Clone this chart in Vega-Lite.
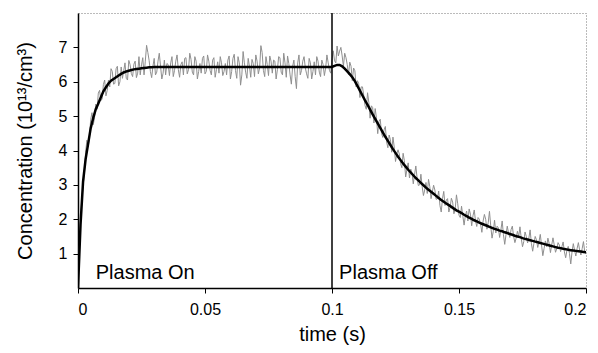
{
  "$schema": "https://vega.github.io/schema/vega-lite/v6.json",
  "width": 508,
  "height": 275,
  "autosize": "none",
  "padding": {"left": 78, "top": 13, "right": 12, "bottom": 65},
  "background": "white",
  "config": {
    "view": {"stroke": "#777", "strokeDash": [1, 2], "strokeWidth": 1},
    "axis": {
      "grid": false,
      "domainColor": "black",
      "domainWidth": 1.5,
      "tickColor": "black",
      "tickSize": 5,
      "labelFont": "Liberation Sans",
      "labelFontSize": 16,
      "labelColor": "black",
      "labelOverlap": false,
      "titleFont": "Liberation Sans",
      "titleFontSize": 20,
      "titleFontWeight": "normal",
      "titleColor": "black"
    }
  },
  "datasets": {
    "series": [
      {"t":0,"f":0,"s":0.05},{"t":0.001,"f":1.85,"s":1.95},{"t":0.002,"f":3.1,"s":2.95},{"t":0.003,"f":3.75,"s":3.95},{"t":0.004,"f":4.2,"s":4.1},
      {"t":0.005,"f":4.65,"s":4.9},{"t":0.006,"f":4.95,"s":4.75},{"t":0.007,"f":5.2,"s":5.35},{"t":0.008,"f":5.37,"s":5.67},{"t":0.009,"f":5.55,"s":5.45},
      {"t":0.01,"f":5.72,"s":5.92},{"t":0.011,"f":5.84,"s":5.59},{"t":0.012,"f":5.95,"s":6.05},{"t":0.013,"f":6.03,"s":6.38},{"t":0.014,"f":6.08,"s":5.93},
      {"t":0.015,"f":6.13,"s":6.38},{"t":0.016,"f":6.18,"s":5.88},{"t":0.017,"f":6.23,"s":6.43},{"t":0.018,"f":6.27,"s":6.32},{"t":0.019,"f":6.3,"s":6.1},
      {"t":0.02,"f":6.32,"s":6.62},{"t":0.021,"f":6.34,"s":6.24},{"t":0.022,"f":6.36,"s":6.51},{"t":0.023,"f":6.37,"s":6.12},{"t":0.024,"f":6.38,"s":6.73},
      {"t":0.025,"f":6.39,"s":6.49},{"t":0.026,"f":6.4,"s":6.2},{"t":0.027,"f":6.41,"s":7.06},{"t":0.028,"f":6.42,"s":6.62},{"t":0.029,"f":6.42,"s":6.12},
      {"t":0.03,"f":6.43,"s":6.68},{"t":0.031,"f":6.43,"s":6.28},{"t":0.032,"f":6.43,"s":6.83},{"t":0.033,"f":6.43,"s":6.08},{"t":0.034,"f":6.43,"s":6.63},
      {"t":0.035,"f":6.43,"s":6.53},{"t":0.036,"f":6.43,"s":6.18},{"t":0.037,"f":6.43,"s":6.73},{"t":0.038,"f":6.43,"s":6.33},{"t":0.039,"f":6.43,"s":6.78},
      {"t":0.04,"f":6.43,"s":6.13},{"t":0.041,"f":6.43,"s":6.58},{"t":0.042,"f":6.43,"s":6.68},{"t":0.043,"f":6.43,"s":6.23},{"t":0.044,"f":6.43,"s":6.83},
      {"t":0.045,"f":6.43,"s":6.28},{"t":0.046,"f":6.43,"s":6.73},{"t":0.047,"f":6.43,"s":6.08},{"t":0.048,"f":6.43,"s":6.53},{"t":0.049,"f":6.43,"s":6.68},
      {"t":0.05,"f":6.43,"s":6.23},{"t":0.051,"f":6.43,"s":6.78},{"t":0.052,"f":6.43,"s":6.33},{"t":0.053,"f":6.43,"s":6.63},{"t":0.054,"f":6.43,"s":6.13},
      {"t":0.055,"f":6.43,"s":6.58},{"t":0.056,"f":6.43,"s":6.73},{"t":0.057,"f":6.43,"s":6.18},{"t":0.058,"f":6.43,"s":6.53},{"t":0.059,"f":6.43,"s":6.63},
      {"t":0.06,"f":6.43,"s":6.08},{"t":0.061,"f":6.43,"s":6.68},{"t":0.062,"f":6.43,"s":6.33},{"t":0.063,"f":6.43,"s":6.73},{"t":0.064,"f":6.43,"s":5.9},
      {"t":0.065,"f":6.43,"s":6.88},{"t":0.066,"f":6.43,"s":6.28},{"t":0.067,"f":6.43,"s":6.68},{"t":0.068,"f":6.43,"s":6.13},{"t":0.069,"f":6.43,"s":6.53},
      {"t":0.07,"f":6.43,"s":6.78},{"t":0.071,"f":6.43,"s":6.23},{"t":0.072,"f":6.43,"s":7.05},{"t":0.073,"f":6.43,"s":6.33},{"t":0.074,"f":6.43,"s":6.73},
      {"t":0.075,"f":6.43,"s":6.18},{"t":0.076,"f":6.43,"s":6.6},{"t":0.077,"f":6.43,"s":6.63},{"t":0.078,"f":6.43,"s":6.08},{"t":0.079,"f":6.43,"s":6.73},
      {"t":0.08,"f":6.43,"s":6.28},{"t":0.081,"f":6.43,"s":6.83},{"t":0.082,"f":6.43,"s":6.13},{"t":0.083,"f":6.43,"s":6.53},{"t":0.084,"f":6.43,"s":5.93},
      {"t":0.085,"f":6.43,"s":6.63},{"t":0.086,"f":6.43,"s":5.8},{"t":0.087,"f":6.43,"s":6.78},{"t":0.088,"f":6.43,"s":6.33},{"t":0.089,"f":6.43,"s":6.73},
      {"t":0.09,"f":6.43,"s":6.23},{"t":0.091,"f":6.43,"s":6.68},{"t":0.092,"f":6.43,"s":6.08},{"t":0.093,"f":6.43,"s":6.58},{"t":0.094,"f":6.43,"s":6.73},
      {"t":0.095,"f":6.43,"s":6.28},{"t":0.096,"f":6.43,"s":6.63},{"t":0.097,"f":6.43,"s":6.18},{"t":0.098,"f":6.43,"s":6.78},{"t":0.099,"f":6.43,"s":6.33},
      {"t":0.1,"f":6.43,"s":6.63},{"t":0.101,"f":6.46,"s":6.61},{"t":0.102,"f":6.49,"s":7.04},{"t":0.103,"f":6.49,"s":6.89},{"t":0.104,"f":6.45,"s":6.75},
      {"t":0.105,"f":6.38,"s":6.83},{"t":0.106,"f":6.3,"s":6.5},{"t":0.107,"f":6.22,"s":6.57},{"t":0.108,"f":6.13,"s":6.03},{"t":0.109,"f":6.02,"s":6.32},
      {"t":0.11,"f":5.88,"s":6.03},{"t":0.111,"f":5.74,"s":5.54},{"t":0.112,"f":5.6,"s":5.85},{"t":0.113,"f":5.46,"s":5.31},{"t":0.114,"f":5.33,"s":5.68},
      {"t":0.115,"f":5.19,"s":4.94},{"t":0.116,"f":5.05,"s":5.25},{"t":0.117,"f":4.92,"s":5.22},{"t":0.118,"f":4.79,"s":4.49},{"t":0.119,"f":4.66,"s":4.91},
      {"t":0.12,"f":4.53,"s":4.38},{"t":0.121,"f":4.4,"s":4.7},{"t":0.122,"f":4.28,"s":4.08},{"t":0.123,"f":4.16,"s":4.31},{"t":0.124,"f":4.04,"s":4.39},
      {"t":0.125,"f":3.93,"s":3.68},{"t":0.126,"f":3.82,"s":4.02},{"t":0.127,"f":3.72,"s":3.62},{"t":0.128,"f":3.62,"s":3.92},{"t":0.129,"f":3.53,"s":3.23},
      {"t":0.13,"f":3.44,"s":3.64},{"t":0.131,"f":3.36,"s":3.46},{"t":0.132,"f":3.28,"s":3.03},{"t":0.133,"f":3.2,"s":3.55},{"t":0.134,"f":3.13,"s":2.98},
      {"t":0.135,"f":3.06,"s":3.31},{"t":0.136,"f":2.99,"s":2.69},{"t":0.137,"f":2.92,"s":3.07},{"t":0.138,"f":2.86,"s":3.16},{"t":0.139,"f":2.8,"s":2.6},
      {"t":0.14,"f":2.74,"s":2.99},{"t":0.141,"f":2.68,"s":2.58},{"t":0.142,"f":2.62,"s":2.82},{"t":0.143,"f":2.56,"s":2.21},{"t":0.144,"f":2.51,"s":2.81},
      {"t":0.145,"f":2.46,"s":2.56},{"t":0.146,"f":2.41,"s":2.21},{"t":0.147,"f":2.36,"s":2.61},{"t":0.148,"f":2.31,"s":2.16},{"t":0.149,"f":2.26,"s":2.71},
      {"t":0.15,"f":2.22,"s":2.12},{"t":0.151,"f":2.18,"s":2.38},{"t":0.152,"f":2.13,"s":1.83},{"t":0.153,"f":2.09,"s":2.24},{"t":0.154,"f":2.05,"s":2.3},
      {"t":0.155,"f":2.01,"s":1.81},{"t":0.156,"f":1.97,"s":2.27},{"t":0.157,"f":1.94,"s":1.79},{"t":0.158,"f":1.9,"s":2.0},{"t":0.159,"f":1.87,"s":1.62},
      {"t":0.16,"f":1.84,"s":2.14},{"t":0.161,"f":1.81,"s":1.71},{"t":0.162,"f":1.78,"s":2.23},{"t":0.163,"f":1.75,"s":1.45},{"t":0.164,"f":1.72,"s":1.97},
      {"t":0.165,"f":1.7,"s":1.8},{"t":0.166,"f":1.67,"s":1.47},{"t":0.167,"f":1.65,"s":1.95},{"t":0.168,"f":1.62,"s":1.27},{"t":0.169,"f":1.6,"s":1.8},
      {"t":0.17,"f":1.57,"s":1.47},{"t":0.171,"f":1.55,"s":1.8},{"t":0.172,"f":1.52,"s":1.32},{"t":0.173,"f":1.5,"s":1.65},{"t":0.174,"f":1.48,"s":1.78},
      {"t":0.175,"f":1.45,"s":1.2},{"t":0.176,"f":1.43,"s":1.63},{"t":0.177,"f":1.41,"s":1.31},{"t":0.178,"f":1.39,"s":1.69},{"t":0.179,"f":1.37,"s":1.07},
      {"t":0.18,"f":1.35,"s":1.5},{"t":0.181,"f":1.33,"s":1.18},{"t":0.182,"f":1.31,"s":1.56},{"t":0.183,"f":1.29,"s":0.94},{"t":0.184,"f":1.27,"s":1.37},
      {"t":0.185,"f":1.25,"s":1.45},{"t":0.186,"f":1.23,"s":1.03},{"t":0.187,"f":1.21,"s":1.46},{"t":0.188,"f":1.19,"s":1.04},{"t":0.189,"f":1.17,"s":1.32},
      {"t":0.19,"f":1.16,"s":1.06},{"t":0.191,"f":1.14,"s":1.34},{"t":0.192,"f":1.13,"s":0.88},{"t":0.193,"f":1.11,"s":1.21},{"t":0.194,"f":1.1,"s":0.7},
      {"t":0.195,"f":1.09,"s":1.29},{"t":0.196,"f":1.08,"s":0.93},{"t":0.197,"f":1.07,"s":1.32},{"t":0.198,"f":1.06,"s":0.96},{"t":0.199,"f":1.05,"s":1.35},
      {"t":0.2,"f":1.04,"s":0.99},
      {"t":0.0005,"s":1.1},{"t":0.0015,"s":2.6},{"t":0.0025,"s":3.3},{"t":0.0035,"s":4.3},{"t":0.0045,"s":4.4},
      {"t":0.0055,"s":5.1},{"t":0.0065,"s":4.95},{"t":0.0075,"s":5.2},{"t":0.0085,"s":5.75},{"t":0.0095,"s":5.5},
      {"t":0.0105,"s":6.05},{"t":0.0115,"s":5.75},{"t":0.0125,"s":5.85},{"t":0.0135,"s":6.3},{"t":0.0145,"s":5.95},
      {"t":0.0155,"s":6.45},{"t":0.0165,"s":6.0},{"t":0.0175,"s":6.1},{"t":0.0185,"s":6.55},{"t":0.0195,"s":6.05},
      {"t":0.0205,"s":6.5},{"t":0.0215,"s":6.15},{"t":0.0225,"s":6.6},{"t":0.0235,"s":6.25},{"t":0.0245,"s":6.2},
      {"t":0.0255,"s":6.7},{"t":0.0265,"s":6.6},{"t":0.0275,"s":6.85},{"t":0.0285,"s":6.3},{"t":0.0295,"s":6.45},
      {"t":0.0305,"s":6.2},{"t":0.0315,"s":6.6},{"t":0.0325,"s":6.45},{"t":0.0335,"s":6.25},{"t":0.0345,"s":6.2},
      {"t":0.0355,"s":6.5},{"t":0.0365,"s":6.55},{"t":0.0375,"s":6.15},{"t":0.0385,"s":6.6},{"t":0.0395,"s":6.35},
      {"t":0.0405,"s":6.5},{"t":0.0415,"s":6.2},{"t":0.0425,"s":6.7},{"t":0.0435,"s":6.35},{"t":0.0445,"s":6.65},
      {"t":0.0455,"s":6.2},{"t":0.0465,"s":6.6},{"t":0.0475,"s":6.3},{"t":0.0485,"s":6.25},{"t":0.0495,"s":6.75},
      {"t":0.0505,"s":6.3},{"t":0.0515,"s":6.6},{"t":0.0525,"s":6.2},{"t":0.0535,"s":6.7},{"t":0.0545,"s":6.35},
      {"t":0.0555,"s":6.25},{"t":0.0565,"s":6.55},{"t":0.0575,"s":6.3},{"t":0.0585,"s":6.2},{"t":0.0595,"s":6.75},
      {"t":0.0605,"s":6.3},{"t":0.0615,"s":6.8},{"t":0.0625,"s":6.1},{"t":0.0635,"s":6.55},{"t":0.0645,"s":6.2},
      {"t":0.0655,"s":6.55},{"t":0.0665,"s":6.1},{"t":0.0675,"s":6.45},{"t":0.0685,"s":6.65},{"t":0.0695,"s":6.15},
      {"t":0.0705,"s":6.6},{"t":0.0715,"s":6.4},{"t":0.0725,"s":6.85},{"t":0.0735,"s":6.15},{"t":0.0745,"s":6.5},
      {"t":0.0755,"s":6.75},{"t":0.0765,"s":6.25},{"t":0.0775,"s":6.6},{"t":0.0785,"s":6.35},{"t":0.0795,"s":6.7},
      {"t":0.0805,"s":6.2},{"t":0.0815,"s":6.55},{"t":0.0825,"s":6.75},{"t":0.0835,"s":6.2},{"t":0.0845,"s":6.45},
      {"t":0.0855,"s":6.15},{"t":0.0865,"s":6.55},{"t":0.0875,"s":6.2},{"t":0.0885,"s":6.6},{"t":0.0895,"s":6.4},
      {"t":0.0905,"s":6.1},{"t":0.0915,"s":6.55},{"t":0.0925,"s":6.3},{"t":0.0935,"s":6.2},{"t":0.0945,"s":6.6},
      {"t":0.0955,"s":6.15},{"t":0.0965,"s":6.5},{"t":0.0975,"s":6.4},{"t":0.0985,"s":6.55},{"t":0.0995,"s":6.25},
      {"t":0.1005,"s":6.9},{"t":0.1015,"s":6.55},{"t":0.1025,"s":6.75},{"t":0.1035,"s":7.0},{"t":0.1045,"s":6.45},
      {"t":0.1055,"s":6.7},{"t":0.1065,"s":6.2},{"t":0.1075,"s":6.45},{"t":0.1085,"s":6.4},{"t":0.1095,"s":5.85},
      {"t":0.1105,"s":5.95},{"t":0.1115,"s":5.85},{"t":0.1125,"s":5.6},{"t":0.1135,"s":5.2},{"t":0.1145,"s":5.4},
      {"t":0.1155,"s":5.3},{"t":0.1165,"s":4.8},{"t":0.1175,"s":4.95},{"t":0.1185,"s":4.85},{"t":0.1195,"s":4.5},
      {"t":0.1205,"s":4.6},{"t":0.1215,"s":4.25},{"t":0.1225,"s":4.45},{"t":0.1235,"s":3.95},{"t":0.1245,"s":4.1},
      {"t":0.1255,"s":3.9},{"t":0.1265,"s":3.9},{"t":0.1275,"s":3.5},{"t":0.1285,"s":3.7},{"t":0.1295,"s":3.45},
      {"t":0.1305,"s":3.2},{"t":0.1315,"s":3.35},{"t":0.1325,"s":3.3},{"t":0.1335,"s":3.2},{"t":0.1345,"s":3.0},
      {"t":0.1355,"s":2.95},{"t":0.1365,"s":2.85},{"t":0.1375,"s":2.75},{"t":0.1385,"s":2.95},{"t":0.1395,"s":2.8},
      {"t":0.1405,"s":2.85},{"t":0.1415,"s":2.6},{"t":0.1425,"s":2.4},{"t":0.1435,"s":2.6},{"t":0.1445,"s":2.4},
      {"t":0.1455,"s":2.6},{"t":0.1465,"s":2.35},{"t":0.1475,"s":2.5},{"t":0.1485,"s":2.3},{"t":0.1495,"s":2.45},
      {"t":0.1505,"s":2.05},{"t":0.1515,"s":2.1},{"t":0.1525,"s":2.1},{"t":0.1535,"s":1.95},{"t":0.1545,"s":2.15},
      {"t":0.1555,"s":2.1},{"t":0.1565,"s":1.95},{"t":0.1575,"s":2.05},{"t":0.1585,"s":1.85},{"t":0.1595,"s":1.95},
      {"t":0.1605,"s":2.0},{"t":0.1615,"s":1.9},{"t":0.1625,"s":1.8},{"t":0.1635,"s":1.65},{"t":0.1645,"s":1.6},
      {"t":0.1655,"s":1.75},{"t":0.1665,"s":1.7},{"t":0.1675,"s":1.55},{"t":0.1685,"s":1.55},{"t":0.1695,"s":1.6},
      {"t":0.1705,"s":1.7},{"t":0.1715,"s":1.5},{"t":0.1725,"s":1.45},{"t":0.1735,"s":1.5},{"t":0.1745,"s":1.45},
      {"t":0.1755,"s":1.35},{"t":0.1765,"s":1.5},{"t":0.1775,"s":1.45},{"t":0.1785,"s":1.3},{"t":0.1795,"s":1.3},
      {"t":0.1805,"s":1.4},{"t":0.1815,"s":1.35},{"t":0.1825,"s":1.25},{"t":0.1835,"s":1.15},{"t":0.1845,"s":1.2},
      {"t":0.1855,"s":1.3},{"t":0.1865,"s":1.25},{"t":0.1875,"s":1.25},{"t":0.1885,"s":1.15},{"t":0.1895,"s":1.25},
      {"t":0.1905,"s":1.2},{"t":0.1915,"s":1.05},{"t":0.1925,"s":1.1},{"t":0.1935,"s":1.0},{"t":0.1945,"s":1.05},
      {"t":0.1955,"s":1.1},{"t":0.1965,"s":1.15},{"t":0.1975,"s":1.1},{"t":0.1985,"s":1.15},{"t":0.1995,"s":1.05}
    ],
    "marker": [{"t": 0.1}],
    "labels": [
      {"t": 0.007, "y": 0.25, "label": "Plasma On"},
      {"t": 0.1028, "y": 0.25, "label": "Plasma Off"}
    ]
  },
  "encoding": {
    "x": {"field": "t", "type": "quantitative", "scale": {"domain": [0, 0.2], "nice": false},
      "axis": {"values": [0, 0.05, 0.1, 0.15, 0.2], "format": "~g", "labelPadding": 8, "titlePadding": 7},
      "title": "time (s)"}
  },
  "layer": [
    {
      "data": {"name": "series"},
      "mark": {"type": "line", "color": "#8f8f8f", "strokeWidth": 1, "clip": true},
      "encoding": {
        "y": {"field": "s", "type": "quantitative", "scale": {"domain": [0, 8], "nice": false},
          "axis": {"values": [1, 2, 3, 4, 5, 6, 7], "labelOverlap": false, "labelPadding": 6, "titlePadding": 23},
          "title": "Concentration (10¹³/cm³)"}
      }
    },
    {
      "data": {"name": "series"},
      "transform": [{"filter": "isValid(datum.f)"}],
      "mark": {"type": "line", "color": "black", "strokeWidth": 2.5, "clip": true},
      "encoding": {
        "y": {"field": "f", "type": "quantitative"}
      }
    },
    {
      "data": {"name": "marker"},
      "mark": {"type": "rule", "color": "black", "strokeWidth": 1.5},
      "encoding": {}
    },
    {
      "data": {"name": "labels"},
      "mark": {"type": "text", "align": "left", "baseline": "alphabetic", "font": "Liberation Sans", "fontSize": 20, "color": "black"},
      "encoding": {
        "y": {"field": "y", "type": "quantitative"},
        "text": {"field": "label"}
      }
    }
  ]
}
